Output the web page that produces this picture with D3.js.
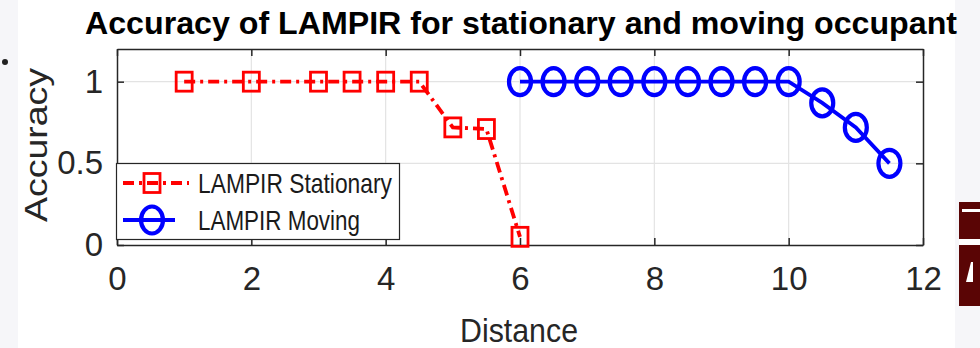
<!DOCTYPE html>
<html><head><meta charset="utf-8">
<script src="https://cdn.jsdelivr.net/npm/d3@7"></script>
<style>
html,body{margin:0;padding:0;background:#fff;}
svg{display:block;font-family:"Liberation Sans",Arial,sans-serif;}
</style></head>
<body>
<script>
const stationaryX = [1, 2, 3, 3.5, 4, 4.5, 5, 5.5, 6];
const stationaryY = [1, 1, 1, 1, 1, 1, 0.72, 0.71, 0.05];
const movingX = [6, 6.5, 7, 7.5, 8, 8.5, 9, 9.5, 10, 10.5, 11, 11.5];
const movingY = [1, 1, 1, 1, 1, 1, 1, 1, 1, 0.87, 0.72, 0.5];
const xTicks = [0, 2, 4, 6, 8, 10, 12];
const yTicks = [0, 0.5, 1];
const seriesNames = ["LAMPIR Stationary", "LAMPIR Moving"];
const titleText = "Accuracy of LAMPIR for stationary and moving occupant";
const xLabel = "Distance";
const yLabel = "Accuracy";

const W = 980, H = 348;
const m = {l:117, r:980-923, t:49, b:348-245};
const iw = W - m.l - m.r, ih = H - m.t - m.b;

const svg = d3.select("body").append("svg").attr("width", W).attr("height", H);
// side panels
svg.append("rect").attr("x",0).attr("y",0).attr("width",18).attr("height",H).attr("fill","#f6f6f9");
svg.append("rect").attr("x",955).attr("y",0).attr("width",25).attr("height",H).attr("fill","#f6f6f9");
svg.append("circle").attr("cx",5).attr("cy",62).attr("r",3).attr("fill","#222");
// logo fragment
const logo = svg.append("g");
logo.append("rect").attr("x",959).attr("y",202).attr("width",21).attr("height",104).attr("fill","#5a0505");
logo.append("rect").attr("x",962).attr("y",209).attr("width",18).attr("height",3).attr("fill","#fff");
logo.append("rect").attr("x",959).attr("y",239).attr("width",21).attr("height",6).attr("fill","#fff");
logo.append("path").attr("d","M966,282 L971,262 L973,262 L973,282 Z").attr("fill","#fff");

const x = d3.scaleLinear().domain([0,12]).range([0, iw]);
const y = d3.scaleLinear().domain([0,1.2]).range([ih, 0]);

const g = svg.append("g").attr("transform",`translate(${m.l},${m.t})`);
g.append("rect").attr("width",iw).attr("height",ih).attr("fill","#fff");

// grid
g.append("g").selectAll("line").data(xTicks.slice(1,-1)).join("line")
  .attr("x1",d=>x(d)).attr("x2",d=>x(d)).attr("y1",0).attr("y2",ih)
  .attr("stroke","#e3e3e3").attr("stroke-width",1.2);
g.append("g").selectAll("line").data(yTicks.slice(1)).join("line")
  .attr("y1",d=>y(d)).attr("y2",d=>y(d)).attr("x1",0).attr("x2",iw)
  .attr("stroke","#e3e3e3").attr("stroke-width",1.2);

// axes
const axisColor = "#262626";
const xa = g.append("g").attr("transform",`translate(0,${ih})`)
  .call(d3.axisBottom(x).tickValues(xTicks).tickSize(-7).tickPadding(16).tickSizeOuter(0));
const xt = g.append("g").call(d3.axisTop(x).tickValues(xTicks).tickSize(-7).tickFormat("").tickSizeOuter(0));
const ya = g.append("g")
  .call(d3.axisLeft(y).tickValues(yTicks).tickSize(-7).tickPadding(14).tickFormat(d3.format("")).tickSizeOuter(0));
const yr = g.append("g").attr("transform",`translate(${iw},0)`)
  .call(d3.axisRight(y).tickValues(yTicks).tickSize(-7).tickFormat("").tickSizeOuter(0));
[xa,xt,ya,yr].forEach(a=>{
  a.select(".domain").attr("stroke",axisColor).attr("stroke-width",1.5);
  a.selectAll(".tick line").attr("stroke",axisColor).attr("stroke-width",1.5);
  a.selectAll("text").attr("fill","#262626").attr("font-size",33).attr("font-family","Liberation Sans, Arial, sans-serif");
});
xa.selectAll("text").attr("dy","0.71em").attr("y",22);
ya.selectAll("text").attr("x",-14);

// lines
const line = d3.line().x(d=>x(d[0])).y(d=>y(d[1]));
const sData = stationaryX.map((v,i)=>[v, stationaryY[i]]);
const mData = movingX.map((v,i)=>[v, movingY[i]]);
g.append("path").datum(sData).attr("d",line).attr("fill","none")
  .attr("stroke","#ff0000").attr("stroke-width",3.8).attr("stroke-dasharray","11,5,3,5");
g.append("path").datum(mData).attr("d",line).attr("fill","none")
  .attr("stroke","#0000ff").attr("stroke-width",3.8);

// markers
g.append("g").selectAll("rect").data(sData).join("rect")
  .attr("x",d=>x(d[0])-8).attr("y",d=>y(d[1])-9.5).attr("width",16).attr("height",19)
  .attr("fill","none").attr("stroke","#ff0000").attr("stroke-width",2.8);
g.append("g").selectAll("ellipse").data(mData).join("ellipse")
  .attr("cx",d=>x(d[0])).attr("cy",d=>y(d[1])).attr("rx",11).attr("ry",13.5)
  .attr("fill","none").attr("stroke","#0000ff").attr("stroke-width",4.2);

// legend
const lg = svg.append("g");
lg.append("rect").attr("x",116.5).attr("y",163.5).attr("width",283).attr("height",76)
  .attr("fill","#fff").attr("stroke",axisColor).attr("stroke-width",1.2);
lg.append("line").attr("x1",123).attr("x2",189).attr("y1",183).attr("y2",183)
  .attr("stroke","#ff0000").attr("stroke-width",3.8).attr("stroke-dasharray","11,5,3,5");
lg.append("rect").attr("x",144).attr("y",173.5).attr("width",16).attr("height",19)
  .attr("fill","none").attr("stroke","#ff0000").attr("stroke-width",2.8);
lg.append("line").attr("x1",123).attr("x2",175).attr("y1",220).attr("y2",220)
  .attr("stroke","#0000ff").attr("stroke-width",3.8);
lg.append("ellipse").attr("cx",152).attr("cy",220).attr("rx",11).attr("ry",13.5)
  .attr("fill","none").attr("stroke","#0000ff").attr("stroke-width",4.2);
lg.append("text").attr("x",198).attr("y",193).attr("font-size",28).attr("fill","#1a1a1a")
  .attr("textLength",194).attr("lengthAdjust","spacingAndGlyphs").text(seriesNames[0]);
lg.append("text").attr("x",198).attr("y",230).attr("font-size",28).attr("fill","#1a1a1a")
  .attr("textLength",162).attr("lengthAdjust","spacingAndGlyphs").text(seriesNames[1]);

// title
svg.append("text").attr("x",85).attr("y",34).attr("font-size",32).attr("font-weight","bold")
  .attr("fill","#000").attr("textLength",872).attr("lengthAdjust","spacingAndGlyphs").text(titleText);
// x label
svg.append("text").attr("x",460).attr("y",342).attr("font-size",34).attr("fill","#262626")
  .attr("textLength",118).attr("lengthAdjust","spacingAndGlyphs").text(xLabel);
// y label
svg.append("text").attr("transform","translate(47,222) rotate(-90)").attr("font-size",31)
  .attr("fill","#262626").attr("textLength",154).attr("lengthAdjust","spacingAndGlyphs").text(yLabel);
</script>
</body></html>
